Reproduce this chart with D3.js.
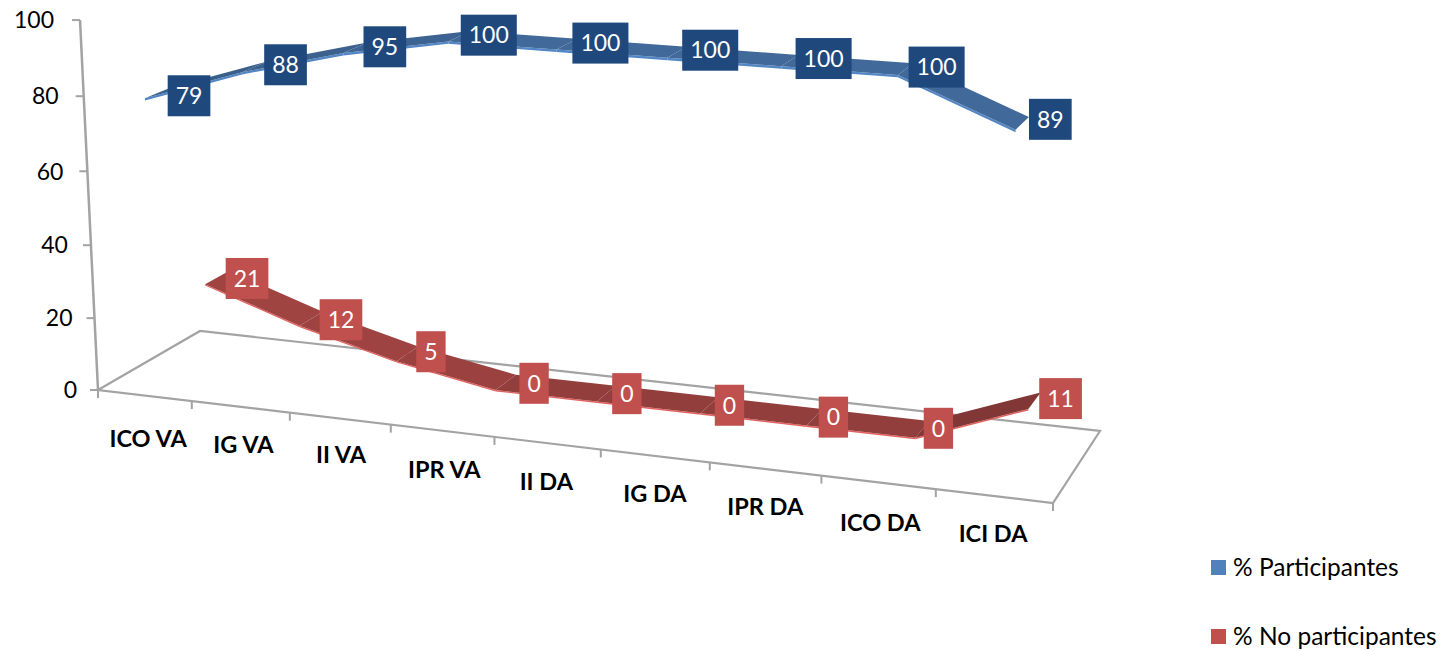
<!DOCTYPE html>
<html>
<head>
<meta charset="utf-8">
<script src="https://cdn.jsdelivr.net/npm/d3@7"></script>
<style>
  html, body { margin: 0; padding: 0; background: #fff; }
  svg { display: block; font-family: Lato, sans-serif; }
</style>
</head>
<body>
<div id="chart"></div>
<script>
const categories = ["ICO VA", "IG VA", "II VA", "IPR VA", "II DA", "IG DA", "IPR DA", "ICO DA", "ICI DA"];
const participantes = [79, 88, 95, 100, 100, 100, 100, 100, 89];
const noParticipantes = [21, 12, 5, 0, 0, 0, 0, 0, 11];
const yTicks = [0, 20, 40, 60, 80, 100];
const seriesNames = ["% Participantes", "% No participantes"];
const seriesColors = ["#4f81bd", "#c0504d"];
const topColors = ["#41699a", "#a04442"];
const labelColors = ["#1f497d", "#c0504d"];
const axisColor = "#a3a3a3";

// hand placed data labels, offset from their point in px
const labelShiftX = [
  [30.7, 30.7, 29.4, 29.2, 33.5, 33.2, 33.7, 31, 28],
  [29.7, 29.7, 23.4, 28.2, 20.5, 20.2, 18.8, 16, 26]
];
const labelShiftY = [
  [3, -2, -1, -1, -1, -2, -2, -2, -4],
  [1, 1, -2, 1, 0, 0, 0, -1, -2]
];
const categoryShiftX = [4, 3, 1, 2, -1, 0, 0, 2, -1];
const categoryShiftY = [43, 38, 36, 39, 38, 38, 38, 40, 38];

const width = 1443, height = 651;

const svg = d3.select("#chart").append("svg")
  .attr("width", width)
  .attr("height", height);

// floor corners on screen, used to calibrate the 3d projection
const A = [98, 390], B = [1053, 503], C = [200, 331], D = [1100, 431];
const vanish = [587, 10450]; // where the verticals meet, below the chart
const topFactor = -0.03547;  // how much the value axis shrinks at 100

const dx1 = B[0] - D[0], dx2 = C[0] - D[0], sx = A[0] - B[0] + D[0] - C[0];
const dy1 = B[1] - D[1], dy2 = C[1] - D[1], sy = A[1] - B[1] + D[1] - C[1];
const den = dx1 * dy2 - dx2 * dy1;
const g = (sx * dy2 - dx2 * sy) / den;
const h = (dx1 * sy - sx * dy1) / den;

// the reference has a bit more perspective along the categories than the corners give
const warp = d3.scalePow().exponent(1.018).domain([0, 1]).range([0, 1]);

// u along categories, w into the depth, v the height (all 0-1)
const project = (u0, w, v0) => {
  const u = warp(u0);
  const v = v0 * (1 + 0.013 * u);
  const q = 1 + g * u + h * w + topFactor * v;
  return [
    ((B[0] - A[0] + g * B[0]) * u + (C[0] - A[0] + h * C[0]) * w + A[0] + topFactor * v * vanish[0]) / q,
    ((B[1] - A[1] + g * B[1]) * u + (C[1] - A[1] + h * C[1]) * w + A[1] + topFactor * v * vanish[1]) / q
  ];
};

const x = d3.scaleBand().domain(categories).range([0, 1]);
const depth = d3.scaleBand().domain(seriesNames).range([0, 1]);
const y = d3.scaleLinear().domain([0, 100]).range([0, 1]);
const xMid = (c) => x(c) + x.bandwidth() / 2;
const line = d3.line();

// floor outline
svg.append("path")
  .attr("d", line([project(0, 0, 0), project(0, 1, 0), project(1, 1, 0), project(1, 0, 0)]) + "Z")
  .attr("fill", "none")
  .attr("stroke", axisColor)
  .attr("stroke-width", 2.2);

// value axis
svg.append("path")
  .attr("d", line([project(0, 0, y(0)), project(0, 0, y(100))]))
  .attr("stroke", axisColor)
  .attr("stroke-width", 2.5);

yTicks.forEach((t) => {
  const p = project(0, 0, y(t));
  svg.append("line")
    .attr("x1", p[0] - 8).attr("x2", p[0])
    .attr("y1", p[1]).attr("y2", p[1])
    .attr("stroke", axisColor)
    .attr("stroke-width", 2);
  svg.append("text")
    .attr("x", p[0] - 26 + (100 - t) * 0.05)
    .attr("y", p[1])
    .attr("dy", "0.36em")
    .attr("text-anchor", "end")
    .attr("font-size", 23)
    .attr("fill", "#000")
    .text(t);
});

// category ticks and labels along the front edge
[...categories.map((c) => x(c)), 1].forEach((u) => {
  const p = project(u, 0, 0);
  svg.append("line")
    .attr("x1", p[0]).attr("x2", p[0])
    .attr("y1", p[1]).attr("y2", p[1] + 8)
    .attr("stroke", axisColor)
    .attr("stroke-width", 2);
});

categories.forEach((c, i) => {
  const p = project(xMid(c), 0, 0);
  svg.append("text")
    .attr("x", p[0] + categoryShiftX[i])
    .attr("y", p[1] + categoryShiftY[i])
    .attr("dy", "0.36em")
    .attr("text-anchor", "middle")
    .attr("font-size", 23.5)
    .attr("font-weight", 700)
    .attr("fill", "#000")
    .text(c);
});

// ribbons
const allSeries = [participantes, noParticipantes];

allSeries.forEach((values, s) => {
  const name = seriesNames[s];
  const w0 = depth(name) + depth.bandwidth() * 0.25;
  const w1 = depth(name) + depth.bandwidth() * 0.75;
  const thick = s ? 0.004 : 0.006;

  d3.pairs(categories.map((c, i) => [xMid(c), y(values[i])])).forEach(([a, b]) => {
    // side face first, then the top of the ribbon
    svg.append("path")
      .attr("d", line([
        project(a[0], w0, a[1]), project(b[0], w0, b[1]),
        project(b[0], w0, b[1] - thick), project(a[0], w0, a[1] - thick)
      ]) + "Z")
      .attr("fill", d3.color(seriesColors[s]).brighter(s ? 0.5 : 0.1));

    const rise = (b[1] - a[1]) / (b[0] - a[0]);
    const shade = Math.max(0, rise * 0.35 + 0.25 * (s === 1 ? 1 : 0));
    svg.append("path")
      .attr("d", line([
        project(a[0], w0, a[1]), project(b[0], w0, b[1]),
        project(b[0], w1, b[1]), project(a[0], w1, a[1])
      ]) + "Z")
      .attr("fill", d3.color(topColors[s]).darker(shade));
  });
});

// data labels on top of everything
allSeries.forEach((values, s) => {
  const name = seriesNames[s];
  const wMid = depth(name) + depth.bandwidth() / 2;
  categories.forEach((c, i) => {
    const p = project(xMid(c), wMid, y(values[i]));
    const g2 = svg.append("g")
      .attr("transform", `translate(${p[0] + labelShiftX[s][i]}, ${p[1] + labelShiftY[s][i]})`);
    const box = g2.append("rect").attr("fill", labelColors[s]);
    const t = g2.append("text")
      .attr("text-anchor", "middle")
      .attr("dy", "0.36em")
      .attr("font-size", 23)
      .attr("fill", "#fff")
      .text(values[i]);
    const tw = t.node().getComputedTextLength() + 16;
    box.attr("x", -tw / 2).attr("y", -20.5).attr("width", tw).attr("height", 41);
  });
});

// legend
const legendY = d3.scalePoint().domain(seriesNames).range([567.5, 636.5]);
seriesNames.forEach((name, s) => {
  svg.append("rect")
    .attr("x", 1211).attr("y", legendY(name) - 7.5)
    .attr("width", 15).attr("height", 15)
    .attr("fill", seriesColors[s]);
  svg.append("text")
    .attr("x", 1233).attr("y", legendY(name))
    .attr("dy", "0.36em")
    .attr("font-size", 24.5)
    .attr("fill", "#000")
    .text(name);
});
</script>
</body>
</html>
